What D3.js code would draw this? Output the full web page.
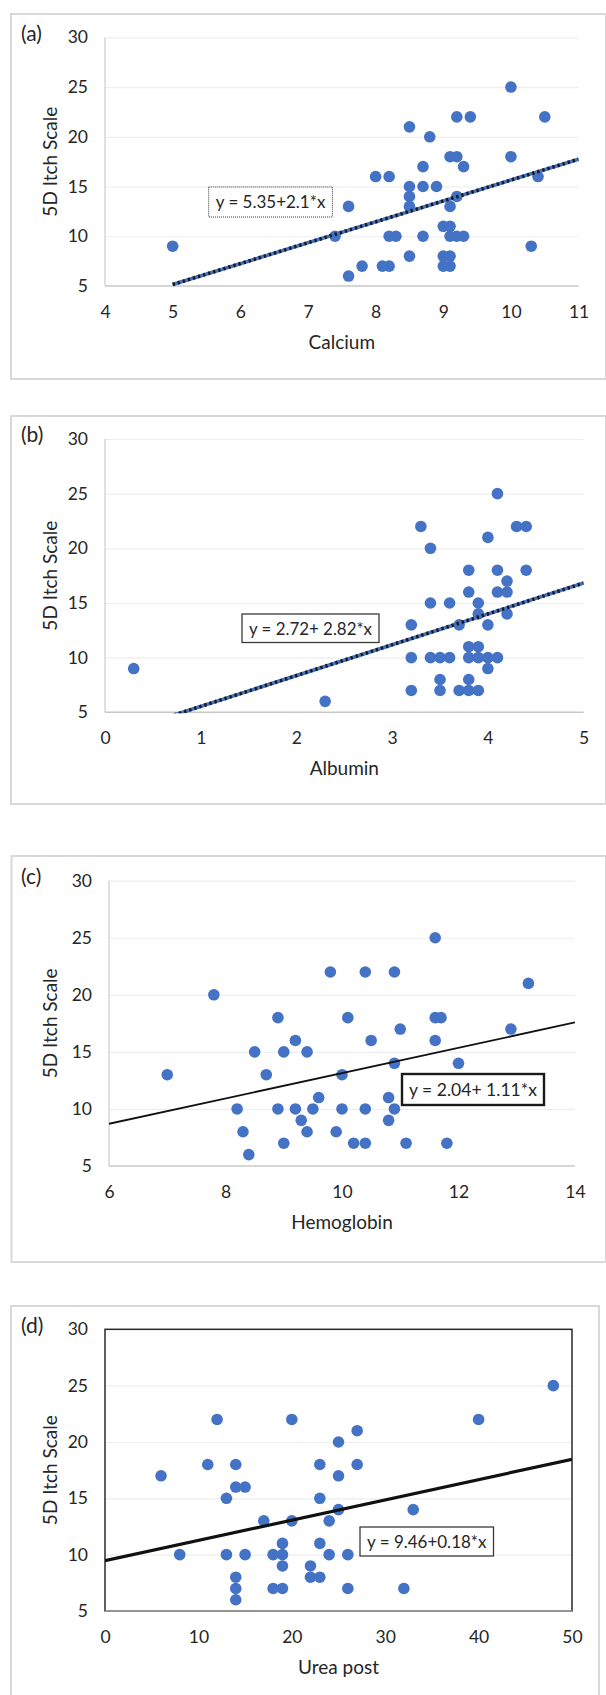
<!DOCTYPE html>
<html>
<head>
<meta charset="utf-8">
<script src="https://cdn.jsdelivr.net/npm/d3@7"></script>
<style>
  html, body { margin: 0; padding: 0; background: #ffffff; }
  svg { display: block; }
  text { font-family: Lato, "Open Sans", sans-serif; fill: #262626; }
</style>
</head>
<body>
<svg id="chart" width="606" height="1695"></svg>
<script>
// ---------------- DATA ----------------
const panelLetters = ["(a)", "(b)", "(c)", "(d)"];
const xTitles = ["Calcium", "Albumin", "Hemoglobin", "Urea post"];
const yTitle = "5D Itch Scale";
const yTicks = [5, 10, 15, 20, 25, 30];
const xTicksA = [4, 5, 6, 7, 8, 9, 10, 11];
const xTicksB = [0, 1, 2, 3, 4, 5];
const xTicksC = [6, 8, 10, 12, 14];
const xTicksD = [0, 10, 20, 30, 40, 50];
const equations = ["y = 5.35+2.1*x", "y = 2.72+ 2.82*x", "y = 2.04+ 1.11*x", "y = 9.46+0.18*x"];
const trendIntercepts = [-5.35, 2.72, 2.04, 9.46];
const trendSlopes = [2.1, 2.82, 1.11, 0.18];
const trendFrom = [5, 0.3, 6, 0];
const trendTo = [11, 5, 14, 50];

const calciumX = [5.0, 7.4, 7.6, 7.6, 7.8, 8.0, 8.2, 8.1, 8.2, 8.2, 8.3, 8.5, 8.5, 8.5, 8.5, 8.5, 8.7, 8.7, 8.7, 8.8, 8.9,
  9.0, 9.1, 9.0, 9.1, 9.0, 9.1, 9.1, 9.1, 9.2, 9.2, 9.4, 9.2, 9.3, 9.1, 9.2, 9.3, 10.0, 10.0, 10.3, 10.4, 10.5];
const calciumY = [9, 10, 13, 6, 7, 16, 16, 7, 7, 10, 10, 21, 15, 14, 13, 8, 17, 15, 10, 20, 15,
  11, 11, 8, 8, 7, 7, 13, 18, 18, 22, 22, 14, 17, 10, 10, 10, 25, 18, 9, 16, 22];

const albuminX = [0.3, 2.3, 3.2, 3.2, 3.2, 3.3, 3.4, 3.4, 3.4, 3.5, 3.5, 3.5, 3.6, 3.6, 3.7, 3.7, 3.8, 3.8, 3.8, 3.8, 3.8,
  3.8, 3.9, 3.9, 3.9, 3.9, 3.9, 4.0, 4.0, 4.0, 4.0, 4.1, 4.1, 4.1, 4.1, 4.2, 4.2, 4.2, 4.3, 4.4, 4.4];
const albuminY = [9, 6, 13, 10, 7, 22, 20, 15, 10, 10, 8, 7, 15, 10, 13, 7, 18, 16, 11, 10, 8,
  7, 15, 14, 11, 10, 7, 21, 13, 10, 9, 25, 18, 16, 10, 17, 16, 14, 22, 22, 18];

const hemoglobinX = [7.0, 7.8, 8.2, 8.3, 8.4, 8.5, 8.7, 8.9, 8.9, 9.0, 9.0, 9.2, 9.2, 9.3, 9.4, 9.4, 9.5, 9.6, 9.8, 9.9,
  10.0, 10.0, 10.1, 10.2, 10.4, 10.4, 10.4, 10.5, 10.8, 10.8, 10.9, 10.9, 10.9, 11.0, 11.1, 11.6, 11.6, 11.7, 11.6,
  11.8, 12.0, 12.9, 13.2];
const hemoglobinY = [13, 20, 10, 8, 6, 15, 13, 18, 10, 15, 7, 16, 10, 9, 15, 8, 10, 11, 22, 8,
  13, 10, 18, 7, 22, 10, 7, 16, 11, 9, 22, 14, 10, 17, 7, 25, 18, 18, 16,
  7, 14, 17, 21];

const ureaX = [6, 8, 11, 12, 13, 13, 14, 14, 15, 15, 14, 14, 14, 17, 18, 18, 19, 19, 19, 19, 20, 20, 22, 22,
  23, 23, 23, 23, 24, 24, 25, 25, 25, 26, 26, 27, 27, 32, 33, 40, 48];
const ureaY = [17, 10, 18, 22, 15, 10, 18, 16, 16, 10, 8, 7, 6, 13, 10, 7, 11, 10, 9, 7, 22, 13, 9, 8,
  18, 15, 11, 8, 13, 10, 20, 17, 14, 10, 7, 21, 18, 7, 14, 22, 25];

// ---------------- LAYOUT ----------------
const panels = [
  { xs: calciumX, ys: calciumY, xTicks: xTicksA, xDomain: [4, 11],
    frame: [11, 14, 606, 379], plot: [105, 578.6, 37.3, 286],
    eqBox: [208.7, 187, 123.7, 30], eqStyle: "dotted", lineStyle: "bluedash" },
  { xs: albuminX, ys: albuminY, xTicks: xTicksB, xDomain: [0, 5],
    frame: [11, 416, 606, 804], plot: [105, 583.6, 439, 712.3],
    eqBox: [242, 614, 137, 28.5], eqStyle: "thin", lineStyle: "bluedash" },
  { xs: hemoglobinX, ys: hemoglobinY, xTicks: xTicksC, xDomain: [6, 14],
    frame: [11.5, 856, 606, 1262], plot: [109, 575, 880.7, 1166],
    eqBox: [402, 1074, 142, 31], eqStyle: "thick", lineStyle: "thin" },
  { xs: ureaX, ys: ureaY, xTicks: xTicksD, xDomain: [0, 50],
    frame: [11, 1306, 599, 1700], plot: [105, 572, 1329.3, 1611],
    eqBox: [360, 1527, 133.5, 29], eqStyle: "thin", lineStyle: "thick", boxed: true }
];

const svg = d3.select("#chart");
const blue = "#4472c4";

panels.forEach((p, i) => {
  const g = svg.append("g");
  const [fx0, fy0, fx1, fy1] = p.frame;
  g.append("rect").attr("x", fx0).attr("y", fy0).attr("width", fx1 - fx0).attr("height", fy1 - fy0)
    .attr("fill", "#fff").attr("stroke", "#d9d9d9").attr("stroke-width", 2);

  const [pl, pr, pt, pb] = p.plot;
  const x = d3.scaleLinear().domain(p.xDomain).range([pl, pr]);
  const y = d3.scaleLinear().domain([5, 30]).range([pb, pt]);

  // gridlines
  const grid = g.append("g").attr("transform", `translate(${pl},0)`)
    .call(d3.axisLeft(y).tickValues(yTicks.slice(1)).tickSize(-(pr - pl)).tickFormat(""));
  grid.select(".domain").remove();
  grid.selectAll("line").attr("stroke", "#eeeeee").attr("stroke-width", 1.2);

  // y axis labels
  const ya = g.append("g").attr("transform", `translate(${pl - 17},0)`)
    .call(d3.axisLeft(y).tickValues(yTicks).tickSize(0).tickPadding(0));
  ya.select(".domain").remove();
  ya.selectAll("text").attr("font-size", 17.5).attr("fill", "#262626")
    .style("font-family", "Lato, sans-serif");

  // x axis labels
  const xa = g.append("g").attr("transform", `translate(0,${pb + 17})`)
    .call(d3.axisBottom(x).tickValues(p.xTicks).tickSize(0).tickPadding(0).tickFormat(d3.format("d")));
  xa.select(".domain").remove();
  xa.selectAll("text").attr("font-size", 17.5).attr("fill", "#262626").attr("dy", "0.35em")
    .attr("y", 9).style("font-family", "Lato, sans-serif");

  // axis lines
  if (p.boxed) {
    g.append("rect").attr("x", pl).attr("y", pt).attr("width", pr - pl).attr("height", pb - pt)
      .attr("fill", "none").attr("stroke", "#2b2b2b").attr("stroke-width", 1.5);
    g.append("line").attr("x1", pl).attr("x2", pr).attr("y1", pb).attr("y2", pb)
      .attr("stroke", "#a6a6a6").attr("stroke-width", 1.5);
  } else {
    g.append("line").attr("x1", pl).attr("x2", pl).attr("y1", pt).attr("y2", pb)
      .attr("stroke", "#d0d0d0").attr("stroke-width", 1.3);
    g.append("line").attr("x1", pl).attr("x2", pr).attr("y1", pb).attr("y2", pb)
      .attr("stroke", "#c8c8c8").attr("stroke-width", 1.5);
  }

  // titles
  g.append("text").attr("x", 21).attr("y", pt - 4).attr("dy", "0.35em")
    .attr("font-size", 21).attr("fill", "#1a1a1a").text(panelLetters[i]);
  g.append("text").attr("transform", `translate(50,${(pt + pb) / 2}) rotate(-90)`)
    .attr("text-anchor", "middle").attr("dy", "0.35em").attr("font-size", 19).text(yTitle);
  g.append("text").attr("x", (pl + pr) / 2).attr("y", pb + 56).attr("dy", "0.35em")
    .attr("text-anchor", "middle").attr("font-size", 19).text(xTitles[i]);

  // points
  const pts = p.xs.map((v, k) => [v, p.ys[k]]);
  g.append("g").selectAll("circle").data(pts).join("circle")
    .attr("cx", d => x(d[0])).attr("cy", d => y(d[1])).attr("r", 5.8).attr("fill", blue);

  // trend line
  const clipId = "clip" + i;
  g.append("clipPath").attr("id", clipId).append("rect")
    .attr("x", pl).attr("y", pt).attr("width", pr - pl).attr("height", pb - pt + 1);
  const a = trendIntercepts[i], b = trendSlopes[i];
  const tl = [[trendFrom[i], a + b * trendFrom[i]], [trendTo[i], a + b * trendTo[i]]];
  const lineGen = d3.line().x(d => x(d[0])).y(d => y(d[1]));
  const tg = g.append("g").attr("clip-path", `url(#${clipId})`);
  if (p.lineStyle === "bluedash") {
    tg.append("path").attr("d", lineGen(tl)).attr("stroke", blue).attr("stroke-width", 3.6).attr("fill", "none");
    tg.append("path").attr("d", lineGen(tl)).attr("stroke", "#1a1a1a").attr("stroke-width", 3.6)
      .attr("stroke-dasharray", "2.3,3").attr("fill", "none");
  } else if (p.lineStyle === "thin") {
    tg.append("path").attr("d", lineGen(tl)).attr("stroke", "#111").attr("stroke-width", 1.8).attr("fill", "none");
  } else {
    tg.append("path").attr("d", lineGen(tl)).attr("stroke", "#111").attr("stroke-width", 3.2).attr("fill", "none");
  }

  // equation box
  const [bx, by, bw, bh] = p.eqBox;
  const box = g.append("rect").attr("x", bx).attr("y", by).attr("width", bw).attr("height", bh).attr("fill", "#fff");
  if (p.eqStyle === "dotted") {
    box.attr("stroke", "#333").attr("stroke-width", 1).attr("stroke-dasharray", "1,1");
  } else if (p.eqStyle === "thick") {
    box.attr("stroke", "#1a1a1a").attr("stroke-width", 2.4);
  } else {
    box.attr("stroke", "#3a3a3a").attr("stroke-width", 1.3);
  }
  g.append("text").attr("x", bx + bw / 2).attr("y", by + bh / 2).attr("dy", "0.35em")
    .attr("text-anchor", "middle").attr("font-size", 18)
    .attr("textLength", bw - 14).attr("lengthAdjust", "spacingAndGlyphs")
    .attr("fill", p.eqStyle === "dotted" ? "#1a1a1a" : "#7a7a7a").text(equations[i]);
});
</script>
</body>
</html>
